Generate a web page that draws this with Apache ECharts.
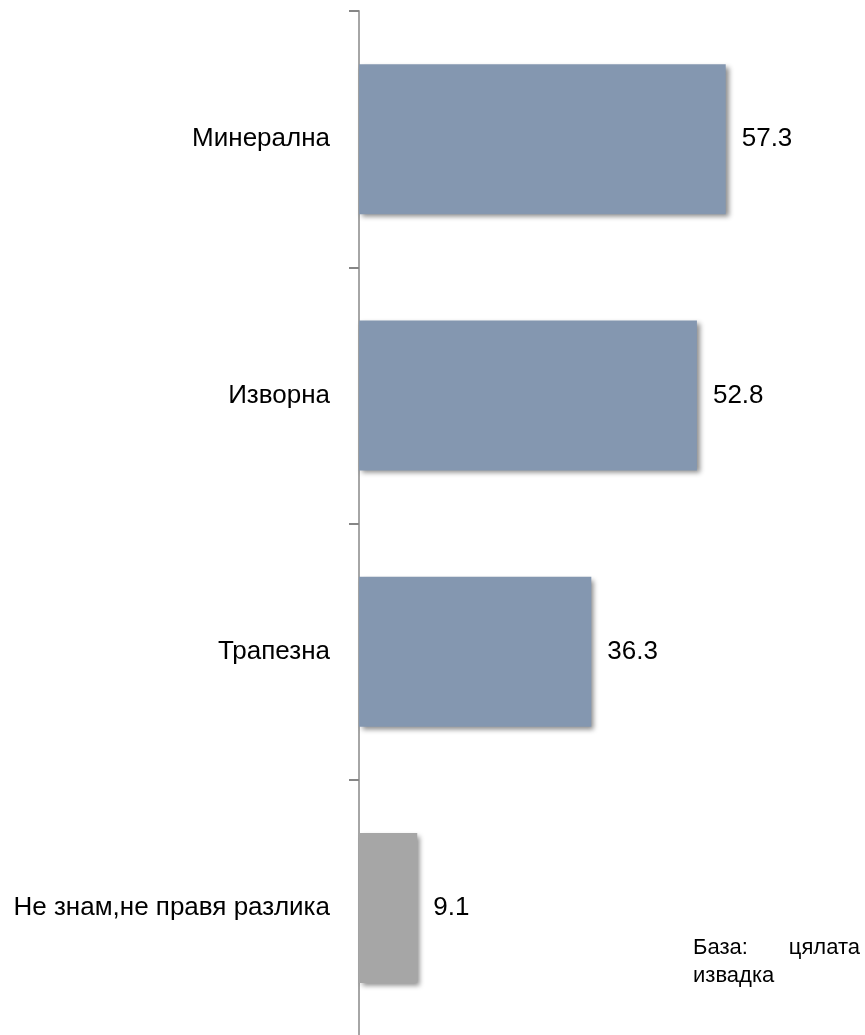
<!DOCTYPE html>
<html>
<head>
<meta charset="utf-8">
<script src="https://cdn.jsdelivr.net/npm/echarts@6/dist/echarts.min.js"></script>
<style>
html,body{margin:0;padding:0;background:#fff;}
#chart{width:865px;height:1035px;}
</style>
</head>
<body>
<div id="chart"></div>
<script>
const categories = ['Минерална', 'Изворна', 'Трапезна', 'Не знам,не правя разлика'];
const values = [57.3, 52.8, 36.3, 9.1];
const barColors = ['#8497b0', '#8497b0', '#8497b0', '#a6a6a6'];
const footLine1Left = 'База:';
const footLine1Right = 'цялата';
const footLine2 = 'извадка';

const FONT = '"Liberation Sans", Arial, sans-serif';

const chart = echarts.init(document.getElementById('chart'));
chart.setOption({
  animation: false,
  backgroundColor: '#ffffff',
  grid: { left: 359, top: 11, width: 448, height: 1025, containLabel: false, outerBoundsMode: 'none' },
  xAxis: { type: 'value', min: 0, max: 70, show: false },
  yAxis: {
    type: 'category',
    data: categories,
    inverse: true,
    axisLine: { show: true, lineStyle: { color: '#a6a6a6', width: 2 } },
    axisTick: { show: true, length: 10, lineStyle: { color: '#868686', width: 2 } },
    axisLabel: { margin: 29, color: '#000', fontSize: 26, fontFamily: FONT }
  },
  series: [{
    type: 'bar',
    barWidth: 150,
    data: values.map((v, i) => ({ value: v, itemStyle: { color: barColors[i] } })),
    itemStyle: {
      shadowColor: 'rgba(0,0,0,0.45)',
      shadowBlur: 5,
      shadowOffsetX: 3,
      shadowOffsetY: 3
    },
    label: {
      show: true, position: 'right', distance: 16,
      color: '#000', fontSize: 26, fontFamily: FONT,
      formatter: p => p.value.toFixed(1)
    }
  }],
  graphic: [
    { type: 'text', left: 693, top: 937, style: { text: footLine1Left, fill: '#000', font: '22px ' + FONT } },
    { type: 'text', right: 5, top: 937, style: { text: footLine1Right, fill: '#000', font: '22px ' + FONT } },
    { type: 'text', left: 693, top: 965, style: { text: footLine2, fill: '#000', font: '22px ' + FONT } }
  ]
});
</script>
</body>
</html>
